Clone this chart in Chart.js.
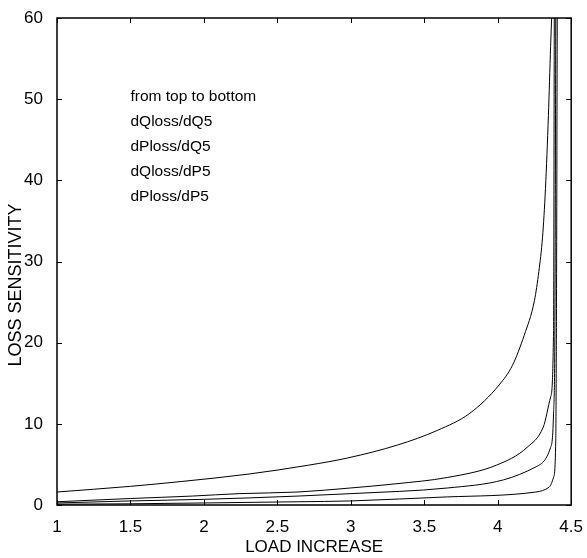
<!DOCTYPE html>
<html>
<head>
<meta charset="utf-8">
<script src="https://cdn.jsdelivr.net/npm/chart.js@4.4.1/dist/chart.umd.min.js"></script>
<style>
  html, body { margin: 0; padding: 0; background: #fff; }
  #wrap { width: 587px; height: 558px; }
</style>
</head>
<body>
<div id="wrap"><canvas id="miGrafico" width="587" height="558"></canvas></div>
<script>
// values
const xTicks = [1, 1.5, 2, 2.5, 3, 3.5, 4, 4.5];
const yTicks = [0, 10, 20, 30, 40, 50, 60];

const xQQ = [1, 1.5, 1.85, 2.3, 2.71, 2.98, 3.32, 3.59, 3.81, 4.01, 4.1, 4.18, 4.25, 4.28, 4.305, 4.325, 4.345, 4.36, 4.367];
const dQlossdQ5 = [1.6, 2.3, 2.9, 3.8, 4.9, 5.8, 7.4, 9.2, 11.3, 14.8, 17.2, 20.9, 25.2, 28.8, 33, 39, 48, 56.5, 60];

const xPQ = [1, 1.5, 1.92, 2.24, 2.64, 3.0, 3.3, 3.66, 3.99, 4.2, 4.31, 4.36, 4.38, 4.385];
const dPlossdQ5 = [0.4, 0.8, 1.1, 1.4, 1.6, 2.1, 2.6, 3.4, 4.9, 7.1, 9.6, 13.3, 21.5, 60];

const xQP = [1, 1.5, 2, 2.64, 3.0, 3.66, 4.04, 4.26, 4.36, 4.38, 4.39, 4.395];
const dQlossdP5 = [0.25, 0.5, 0.7, 1.1, 1.4, 2.1, 3.1, 4.7, 7.1, 11.3, 25, 60];

const xPP = [1, 1.5, 2, 2.64, 3.0, 3.66, 4.26, 4.35, 4.38, 4.395, 4.4, 4.405];
const dPlossdP5 = [0.1, 0.15, 0.25, 0.4, 0.5, 1.0, 1.6, 2.2, 3.4, 8, 25, 60];

const notas = ['from top to bottom', 'dQloss/dQ5', 'dPloss/dQ5', 'dQloss/dP5', 'dPloss/dP5'];

const FUENTE = '"Liberation Sans", Arial, sans-serif';

function puntos(xs, ys) {
    return xs.map(function (x, i) { return { x: x, y: ys[i] }; });
}

function serie(nombre, xs, ys) {
    return {
        label: nombre,
        data: puntos(xs, ys),
        borderColor: '#000',
        borderWidth: 1,
        pointRadius: 0,
        fill: false,
        cubicInterpolationMode: 'monotone'
    };
}

// frame, inward ticks, y title and the text note
const marco = {
    id: 'marco',
    afterDraw: function (chart) {
        const ctx = chart.ctx;
        const a = chart.chartArea;
        const sx = chart.scales.x, sy = chart.scales.y;
        ctx.save();
        ctx.strokeStyle = '#000';
        ctx.lineWidth = 1.5;
        ctx.strokeRect(a.left, a.top, a.right - a.left, a.bottom - a.top);
        ctx.lineWidth = 1;
        ctx.beginPath();
        xTicks.forEach(function (v) {
            const px = Math.round(sx.getPixelForValue(v)) + 0.5;
            ctx.moveTo(px, a.bottom); ctx.lineTo(px, a.bottom - 5);
            ctx.moveTo(px, a.top); ctx.lineTo(px, a.top + 5);
        });
        yTicks.forEach(function (v) {
            const py = Math.round(sy.getPixelForValue(v)) + 0.5;
            ctx.moveTo(a.left, py); ctx.lineTo(a.left + 5, py);
            ctx.moveTo(a.right, py); ctx.lineTo(a.right - 5, py);
        });
        ctx.stroke();

        ctx.fillStyle = '#000';
        // y title, sits a bit below the middle like the original
        ctx.save();
        ctx.translate(16, 285);
        ctx.rotate(-Math.PI / 2);
        ctx.font = '18px ' + FUENTE;
        ctx.textAlign = 'center';
        ctx.textBaseline = 'middle';
        ctx.fillText('LOSS SENSITIVITY', 0, 0);
        ctx.restore();

        ctx.font = '15.5px ' + FUENTE;
        ctx.textBaseline = 'middle';
        ctx.textAlign = 'left';
        const x0 = sx.getPixelForValue(1.5);
        const y0 = sy.getPixelForValue(50.3);
        notas.forEach(function (t, i) {
            ctx.fillText(t, x0, y0 + i * 25);
        });
        ctx.restore();
    }
};

let graficaLinea = new Chart(document.getElementById('miGrafico'), {
    type: 'line',
    data: {
        datasets: [
            serie('dQloss/dQ5', xQQ, dQlossdQ5),
            serie('dPloss/dQ5', xPQ, dPlossdQ5),
            serie('dQloss/dP5', xQP, dQlossdP5),
            serie('dPloss/dP5', xPP, dPlossdP5)
        ]
    },
    options: {
        responsive: false,
        animation: false,
        layout: { padding: { top: 18, right: 12, left: 0, bottom: 0 } },
        plugins: {
            legend: { display: false },
            tooltip: { enabled: false }
        },
        scales: {
            x: {
                type: 'linear',
                min: 1,
                max: 4.5,
                border: { display: false },
                grid: { display: false },
                afterBuildTicks: function (s) { s.ticks = xTicks.map(function (v) { return { value: v }; }); },
                afterFit: function (s) { s.height = 53; },
                ticks: {
                    color: '#000',
                    padding: 4,
                    maxRotation: 0,
                    font: { family: FUENTE, size: 17 },
                    callback: function (v) { return String(v); }
                },
                title: {
                    display: true,
                    text: 'LOAD INCREASE',
                    color: '#000',
                    padding: { top: 0, bottom: 0 },
                    font: { family: FUENTE, size: 17 }
                }
            },
            y: {
                type: 'linear',
                min: 0,
                max: 60,
                border: { display: false },
                grid: { display: false },
                afterBuildTicks: function (s) { s.ticks = yTicks.map(function (v) { return { value: v }; }); },
                afterFit: function (s) { s.width = 57; },
                ticks: {
                    color: '#000',
                    padding: 6,
                    font: { family: FUENTE, size: 17 }
                },
                title: { display: false }
            }
        }
    },
    plugins: [marco]
});
</script>
</body>
</html>
